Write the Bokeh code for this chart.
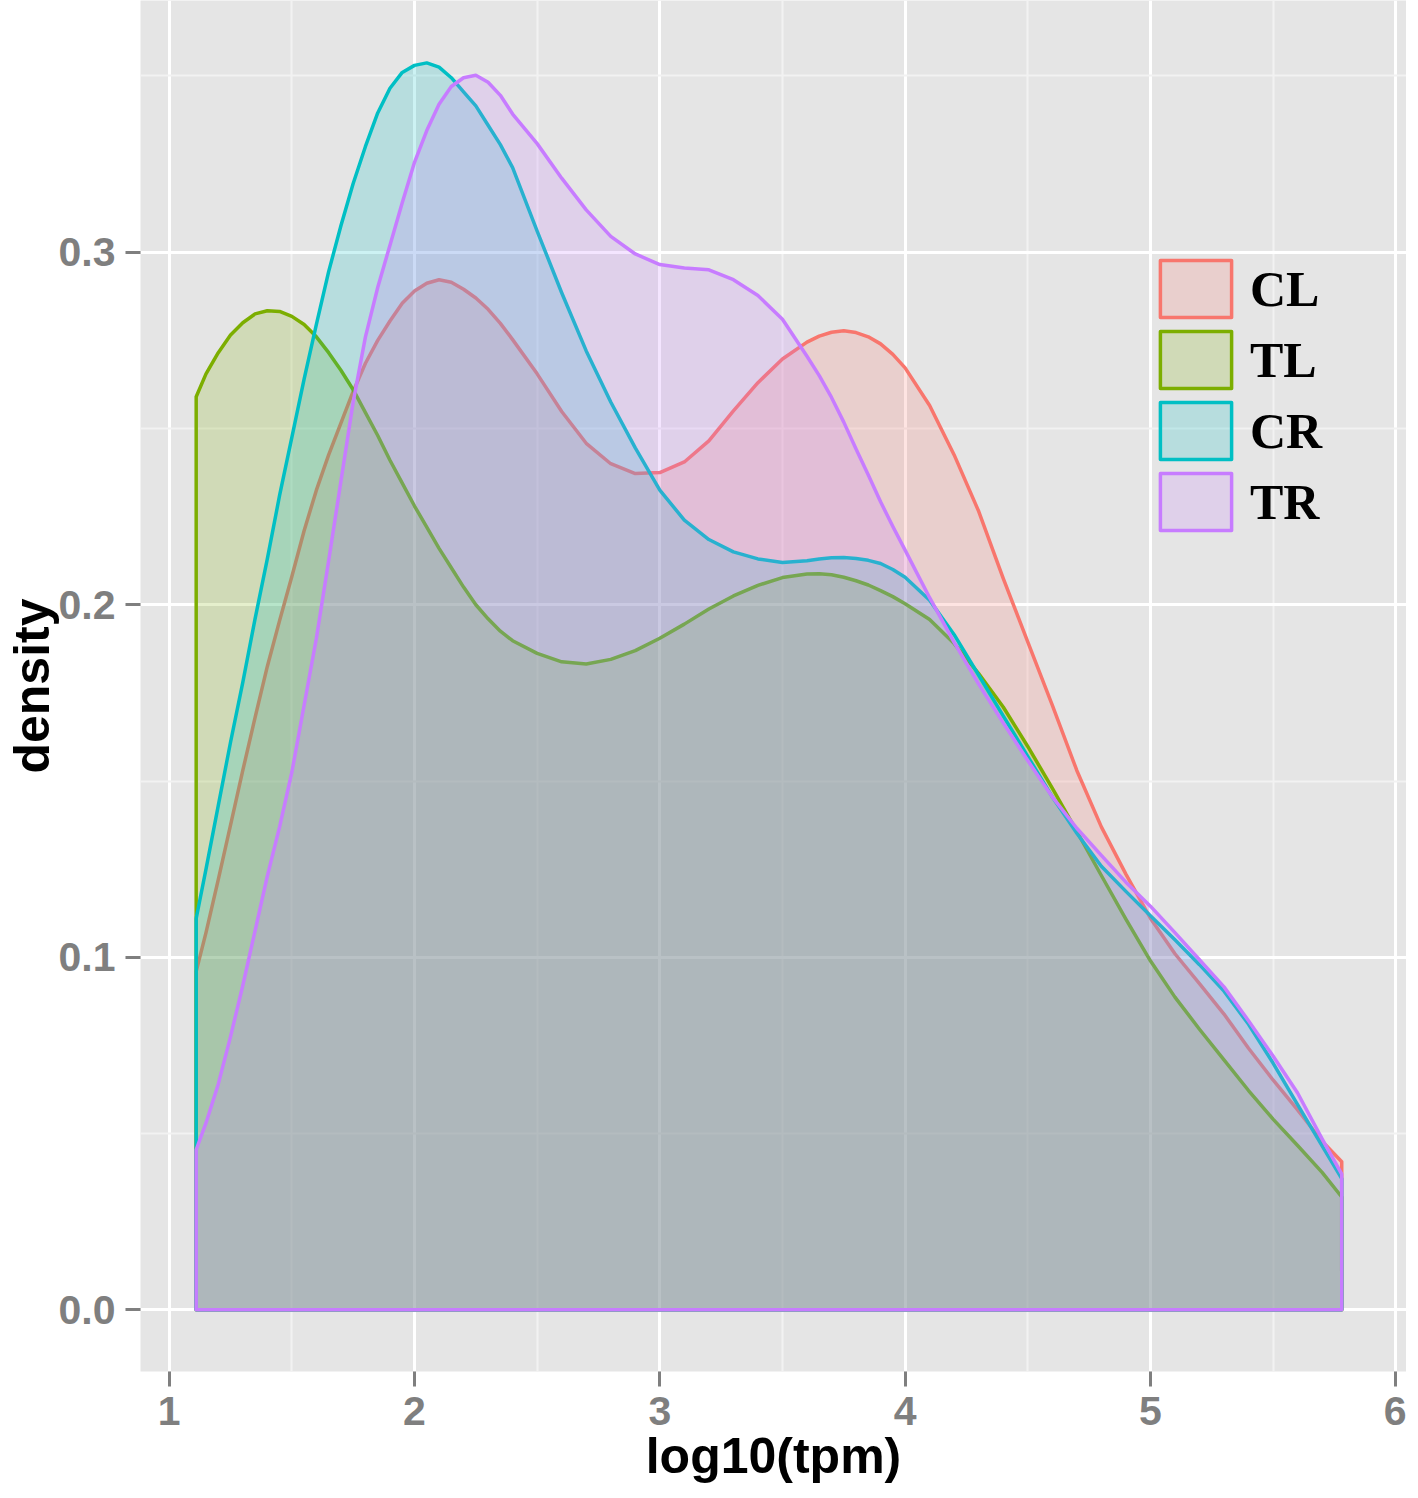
from bokeh.plotting import figure
from bokeh.models import Range1d, FixedTicker, Legend, LegendItem, PrintfTickFormatter, ColumnDataSource
from bokeh.embed import file_html
from bokeh.resources import INLINE

# ---- data ----
groups = ["CL", "TL", "CR", "TR"]
colors = ["#F8766D", "#7CAE00", "#00BFC4", "#C77CFF"]

x_log10_tpm = [1.11, 1.15, 1.2, 1.25, 1.3, 1.35, 1.4, 1.45, 1.5, 1.55,
               1.6, 1.65, 1.7, 1.75, 1.8, 1.85, 1.9, 1.95, 2.0, 2.05,
               2.1, 2.15, 2.2, 2.25, 2.3, 2.35, 2.4, 2.5, 2.6, 2.7,
               2.8, 2.9, 3.0, 3.1, 3.2, 3.3, 3.4, 3.5, 3.6, 3.65,
               3.7, 3.75, 3.8, 3.85, 3.9, 3.95, 4.0, 4.1, 4.2, 4.3,
               4.4, 4.5, 4.6, 4.7, 4.8, 4.9, 5.0, 5.1, 5.2, 5.3,
               5.4, 5.5, 5.6, 5.7, 5.78]

density_CL = [0.0960, 0.1070, 0.1220, 0.1375, 0.1530, 0.1680, 0.1825, 0.1955, 0.2080, 0.2210,
              0.2325, 0.2425, 0.2515, 0.2605, 0.2685, 0.2750, 0.2805, 0.2855, 0.2890, 0.2912,
              0.2922, 0.2915, 0.2895, 0.2870, 0.2838, 0.2798, 0.2752, 0.2655, 0.2548, 0.2458,
              0.2400, 0.2372, 0.2375, 0.2405, 0.2465, 0.2550, 0.2630, 0.2697, 0.2745, 0.2762,
              0.2773, 0.2777, 0.2772, 0.2760, 0.2740, 0.2710, 0.2672, 0.2565, 0.2425, 0.2265,
              0.2075, 0.1895, 0.1715, 0.1530, 0.1370, 0.1236, 0.1111, 0.1010, 0.0925, 0.0839,
              0.0742, 0.0652, 0.0567, 0.0478, 0.0420]

density_TL = [0.2590, 0.2655, 0.2715, 0.2765, 0.2800, 0.2825, 0.2834, 0.2832, 0.2818, 0.2795,
              0.2760, 0.2715, 0.2665, 0.2610, 0.2545, 0.2480, 0.2410, 0.2345, 0.2280, 0.2220,
              0.2160, 0.2105, 0.2050, 0.2000, 0.1960, 0.1925, 0.1898, 0.1862, 0.1838, 0.1832,
              0.1845, 0.1870, 0.1905, 0.1945, 0.1988, 0.2025, 0.2055, 0.2077, 0.2087, 0.2088,
              0.2085, 0.2078, 0.2068, 0.2056, 0.2040, 0.2023, 0.2003, 0.1958, 0.1890, 0.1805,
              0.1710, 0.1598, 0.1480, 0.1357, 0.1232, 0.1108, 0.0990, 0.0887, 0.0796, 0.0709,
              0.0622, 0.0541, 0.0466, 0.0390, 0.0320]

density_CR = [0.1110, 0.1250, 0.1430, 0.1610, 0.1780, 0.1960, 0.2130, 0.2310, 0.2475, 0.2640,
              0.2795, 0.2945, 0.3075, 0.3195, 0.3300, 0.3395, 0.3465, 0.3510, 0.3530, 0.3537,
              0.3525, 0.3495, 0.3455, 0.3415, 0.3360, 0.3305, 0.3240, 0.3060, 0.2885, 0.2720,
              0.2575, 0.2445, 0.2325, 0.2240, 0.2185, 0.2150, 0.2130, 0.2120, 0.2125, 0.2130,
              0.2133, 0.2134, 0.2131, 0.2126, 0.2117, 0.2100, 0.2078, 0.2013, 0.1915, 0.1800,
              0.1685, 0.1570, 0.1455, 0.1352, 0.1258, 0.1187, 0.1118, 0.1050, 0.0979, 0.0904,
              0.0810, 0.0700, 0.0582, 0.0465, 0.0372]

density_TR = [0.0454, 0.0530, 0.0640, 0.0775, 0.0920, 0.1075, 0.1230, 0.1370, 0.1525, 0.1715,
              0.1905, 0.2125, 0.2350, 0.2575, 0.2760, 0.2900, 0.3020, 0.3140, 0.3255, 0.3345,
              0.3420, 0.3470, 0.3495, 0.3502, 0.3482, 0.3445, 0.3392, 0.3308, 0.3210, 0.3120,
              0.3045, 0.2995, 0.2965, 0.2955, 0.2950, 0.2922, 0.2877, 0.2810, 0.2705, 0.2650,
              0.2588, 0.2518, 0.2442, 0.2368, 0.2292, 0.2222, 0.2155, 0.2020, 0.1893, 0.1775,
              0.1665, 0.1558, 0.1455, 0.1366, 0.1289, 0.1213, 0.1145, 0.1070, 0.0993, 0.0916,
              0.0820, 0.0720, 0.0615, 0.0485, 0.0385]

series = [density_CL, density_TL, density_CR, density_TR]

x_ticks = [1, 2, 3, 4, 5, 6]
x_minor = [1.5, 2.5, 3.5, 4.5, 5.5]
y_ticks = [0.0, 0.1, 0.2, 0.3]
y_minor = [0.05, 0.15, 0.25, 0.35]

# ---- figure ----
p = figure(width=1406, height=1486, output_backend="svg", toolbar_location=None,
           x_range=Range1d(0.883, 6.044), y_range=Range1d(-0.0175, 0.3714),
           min_border_left=130, min_border_right=0, min_border_top=0, min_border_bottom=100,
           x_axis_label="log10(tpm)", y_axis_label="density")
p.background_fill_color = "#E5E5E5"
p.border_fill_color = "white"
p.outline_line_color = None

p.xaxis.ticker = FixedTicker(ticks=x_ticks, minor_ticks=x_minor)
p.yaxis.ticker = FixedTicker(ticks=y_ticks, minor_ticks=y_minor)
p.yaxis.formatter = PrintfTickFormatter(format="%.1f")

for g in (p.xgrid, p.ygrid):
    g.grid_line_color = "white"
    g.grid_line_width = 3
    g.minor_grid_line_color = "#F2F2F2"
    g.minor_grid_line_width = 2

for ax in (p.xaxis, p.yaxis):
    ax.axis_line_color = None
    ax.major_tick_line_color = "#7F7F7F"
    ax.major_tick_line_width = 3
    ax.major_tick_out = 15
    ax.major_tick_in = 0
    ax.minor_tick_line_color = None
    ax.major_label_text_font = "Liberation Sans"
    ax.major_label_text_font_style = "bold"
    ax.major_label_text_font_size = "41px"
    ax.major_label_text_color = "#7F7F7F"
    ax.major_label_standoff = 10
    ax.axis_label_text_font = "Liberation Sans"
    ax.axis_label_text_font_style = "bold"
    ax.axis_label_text_font_size = "50px"
    ax.axis_label_text_color = "black"
p.yaxis.axis_label_standoff = -4
p.xaxis.axis_label_standoff = 0

items = []
for name, col, ys in zip(groups, colors, series):
    px = [x_log10_tpm[0]] + x_log10_tpm + [x_log10_tpm[-1]]
    py = [0.0] + ys + [0.0]
    src = ColumnDataSource(dict(x=px, y=py))
    r = p.patch("x", "y", source=src, fill_color=col, fill_alpha=0.2,
                line_color=col, line_width=3.5, line_join="round")
    items.append(LegendItem(label=name, renderers=[r]))

legend = Legend(items=items, location=(1011, 834))
legend.glyph_width = 89
legend.glyph_height = 71
legend.spacing = 0
legend.padding = 4
legend.margin = 0
legend.label_standoff = 10
legend.label_text_font = "Liberation Serif"
legend.label_text_font_style = "bold"
legend.label_text_font_size = "50px"
legend.label_text_color = "black"
legend.background_fill_alpha = 0
legend.border_line_color = None
p.add_layout(legend)

open("out.html", "w").write(file_html(p, INLINE))
